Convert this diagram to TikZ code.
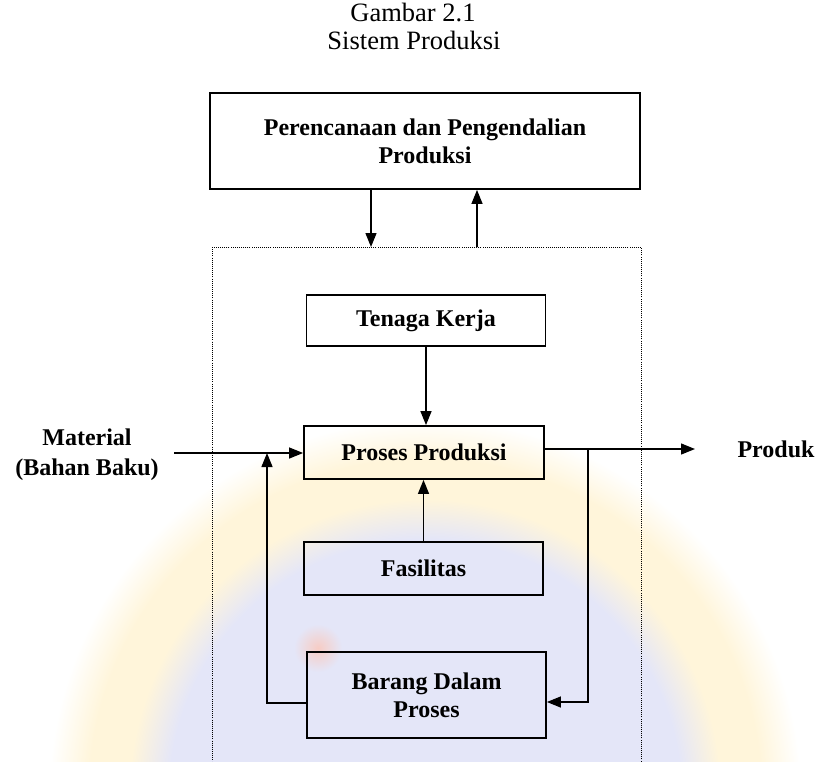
\documentclass[tikz,border=0pt]{standalone}
\usepackage{fontspec}
\setmainfont{Liberation Serif}
\usetikzlibrary{arrows.meta}
\definecolor{wmyellow}{RGB}{255,245,218}
\definecolor{wmblue}{RGB}{228,230,248}
\definecolor{wmred}{RGB}{247,204,196}
\pgfdeclareradialshading{wmshade}{\pgfpoint{0bp}{0bp}}{%
  color(0bp)=(wmblue); color(16bp)=(wmblue); color(18.5bp)=(wmyellow);
  color(21bp)=(wmyellow); color(23.5bp)=(white); color(50bp)=(white)}
\begin{document}
\begin{tikzpicture}[x=1pt,y=-1pt,
  box/.style={draw, line width=1.8pt, minimum width=239pt, inner sep=0pt,
    font=\fontsize{24}{28}\selectfont\bfseries, align=center},
  arr/.style={line width=1.3pt, -{Triangle[length=14pt,width=11pt]}},
  lbl/.style={font=\fontsize{24}{30}\selectfont\bfseries, align=center, inner sep=0pt},
  ttl/.style={font=\fontsize{26.5}{28}\selectfont, anchor=base, inner sep=0pt},
  frame/.style={line width=0.9pt, dash pattern=on 0.9pt off 1.2pt}]
\useasboundingbox (0,0) rectangle (819,761);
\clip (0,0) rectangle (819,761);
% faint watermark of the scanned page
\shade[shading=wmshade] (25,395) rectangle (825,1195);
\shade[inner color=wmred, outer color=wmblue] (318,648) circle (24pt);
% title
\node[ttl] (t1) at (413,21) {Gambar 2.1};
\node[ttl] (t2) at (414,49) {Sistem Produksi};
% dotted system frame
\draw[frame] (212,247) rectangle (641,800);
% boxes
\node[box, minimum width=430pt, minimum height=96pt] (plan) at (425,141) {Perencanaan dan Pengendalian\\Produksi};
\node[box, minimum height=51pt] (tenaga) at (426,320.5) {Tenaga Kerja};
\node[box, minimum width=240pt, minimum height=53pt] (proses) at (424,452.5) {Proses Produksi};
\node[box, minimum height=53pt] (fasil) at (423.5,568.5) {Fasilitas};
\node[box, minimum height=86pt] (barang) at (426.5,695) {Barang Dalam\\Proses};
% outside labels
\node[lbl] (material) at (87,455) {Material\\(Bahan Baku)};
\node[lbl] (produk) at (776,449) {Produk};
% connectors
\coordinate (d1) at (371,247);
\coordinate (u1) at (477,247);
\draw[arr] (plan.south -| d1) -- (d1);
\draw[arr] (u1) -- (plan.south -| u1);
\draw[arr] (tenaga.south) -- (tenaga.south |- proses.north);
\draw[arr] (fasil.north) -- (fasil.north |- proses.south);
\coordinate (min) at (174,453);
\draw[arr] (min) -- (min -| proses.west);
\coordinate (pout) at (695,449);
\draw[arr] (pout -| proses.east) -- (pout);
\coordinate (fb) at (588,449);
\draw[arr] (fb) |- ([yshift=-7pt]barang.east);
\coordinate (lj) at (267,453);
\draw[arr] ([yshift=-8pt]barang.west) -| (lj);
\end{tikzpicture}
\end{document}
